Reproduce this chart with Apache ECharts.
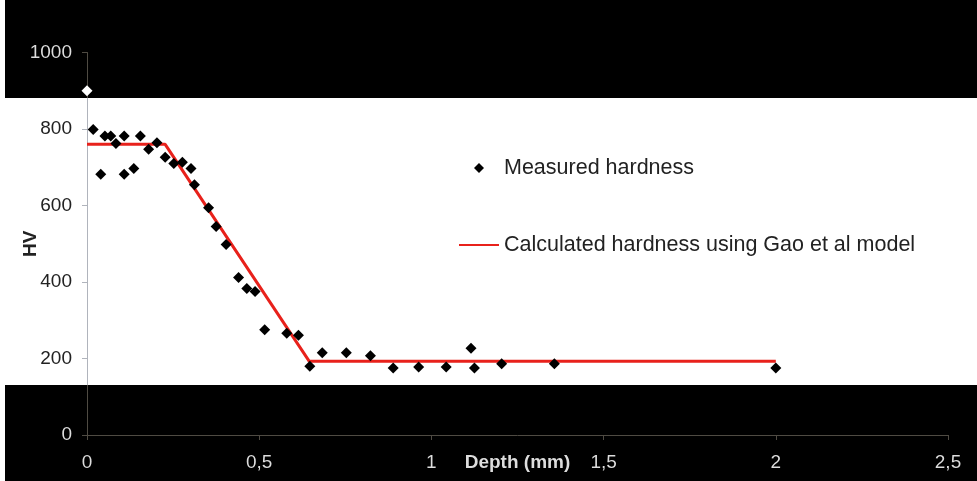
<!DOCTYPE html>
<html>
<head>
<meta charset="utf-8">
<script src="https://cdn.jsdelivr.net/npm/echarts@6/dist/echarts.min.js"></script>
<style>html,body{margin:0;padding:0;background:#fff;}#c{width:977px;height:481px;}</style>
</head>
<body>
<div id="c"></div>
<script>
// Measured hardness: depth (mm), HV
const measuredDepth = [0, 0.018, 0.040, 0.052, 0.069, 0.084, 0.108, 0.108, 0.136, 0.155, 0.179, 0.203, 0.227, 0.252, 0.277, 0.302, 0.312, 0.353, 0.375, 0.404, 0.440, 0.464, 0.488, 0.516, 0.580, 0.614, 0.647, 0.683, 0.753, 0.823, 0.889, 0.963, 1.043, 1.115, 1.125, 1.204, 1.357, 2.0];
const measuredHV    = [900, 799, 682, 782, 782, 762, 782, 682, 697, 782, 747, 764, 726, 710, 713, 697, 654, 594, 545, 498, 412, 383, 375, 275, 266, 261, 180, 215, 215, 207, 175, 178, 178, 227, 175, 186, 186, 175];
// Calculated hardness (Gao et al model)
const modelDepth = [0, 0.227, 0.645, 2.0];
const modelHV    = [760, 760, 193, 193];
const xTicks = [0, 0.5, 1, 1.5, 2, 2.5];
const yTicks = [0, 200, 400, 600, 800, 1000];

const chart = echarts.init(document.getElementById('c'), null, {renderer: 'canvas'});
const font = 'Liberation Sans, Arial, sans-serif';
chart.setOption({
  backgroundColor: '#ffffff',
  animation: false,
  textStyle: {fontFamily: font},
  grid: {left: 87, right: 29, top: 52.5, bottom: 46, containLabel: false, outerBoundsMode: 'none'},
  legend: {
    orient: 'vertical', left: 453, top: 152, itemWidth: 40, itemHeight: 10, itemGap: 55,
    symbolKeepAspect: true,
    textStyle: {fontFamily: font, fontSize: 21.5, color: '#222'},
    data: [
      {name: 'Measured hardness', icon: 'path://M0,-1 L1,0 L0,1 L-1,0 Z', itemStyle: {color: '#000', opacity: 1}},
      {name: 'Calculated hardness using Gao et al model', itemStyle: {opacity: 0}}
    ]
  },
  xAxis: {
    type: 'value', min: xTicks[0], max: xTicks[xTicks.length - 1], interval: 0.5,
    name: 'Depth (mm)', nameLocation: 'middle', nameGap: 18, nameMoveOverlap: false,
    nameTextStyle: {fontFamily: font, fontSize: 19, fontWeight: 'bold', color: '#222'},
    axisLine: {lineStyle: {color: '#b0b4bc', width: 1}},
    axisTick: {show: true, length: 5, lineStyle: {color: '#b0b4bc'}},
    axisLabel: {margin: 18, fontSize: 19, color: '#222', fontFamily: font,
      formatter: v => String(v).replace('.', ',')},
    splitLine: {show: false}
  },
  yAxis: {
    type: 'value', min: yTicks[0], max: yTicks[yTicks.length - 1], interval: 200,
    name: 'HV', nameLocation: 'middle', nameGap: 47, nameMoveOverlap: false,
    nameTextStyle: {fontFamily: font, fontSize: 19, fontWeight: 'bold', color: '#222'},
    axisLine: {show: true, lineStyle: {color: '#b0b4bc', width: 1}},
    axisTick: {show: true, length: 5, lineStyle: {color: '#b0b4bc'}},
    axisLabel: {margin: 15, fontSize: 19, color: '#222', fontFamily: font,
      formatter: v => String(v)},
    splitLine: {show: false}
  },
  series: [
    {
      name: 'Measured hardness', type: 'scatter', symbol: 'diamond', symbolSize: 11,
      itemStyle: {color: '#000', opacity: 1}, clip: false,
      data: measuredDepth.map((d, i) => [d, measuredHV[i]]), z: 3
    },
    {
      name: 'Calculated hardness using Gao et al model', type: 'line', symbol: 'none',
      lineStyle: {color: '#e8211b', width: 3}, itemStyle: {color: '#e8211b'},
      data: modelDepth.map((d, i) => [d, modelHV[i]]), z: 2
    }
  ],
  graphic: [
    {type: 'rect', z: 100, silent: true, shape: {x: 5, y: 0, width: 972, height: 98},
      style: {fill: '#ffffff', blend: 'difference'}},
    {type: 'rect', z: 100, silent: true, shape: {x: 5, y: 385, width: 972, height: 96},
      style: {fill: '#ffffff', blend: 'difference'}}
  ]
});
</script>
</body>
</html>
